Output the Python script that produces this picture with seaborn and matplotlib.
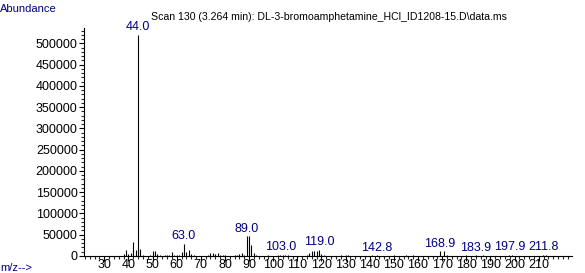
import matplotlib
matplotlib.use("Agg")
import matplotlib.pyplot as plt
import seaborn as sns
import numpy as np
import pandas as pd
from matplotlib.ticker import MultipleLocator

mz = [38, 39, 40, 41, 42, 43, 44, 45, 46, 49, 50, 51, 52, 53, 55, 56, 57, 58, 59, 60,
      61, 62, 63, 64, 65, 66, 67, 73, 74, 75, 76, 77, 78, 79, 80, 84, 85, 86, 87, 88,
      89, 90, 91, 92, 93, 98, 102, 103, 104, 105, 106, 114, 115, 116, 117, 118, 119, 120,
      121, 128, 130, 131, 141, 142.8, 150, 155, 158, 168.9, 170.9, 172, 180, 183.9, 187,
      197.9, 199, 211.8, 213]
abundance = [4000, 15000, 5000, 8000, 32000, 13000, 520000, 17000, 3000, 2000, 12000, 12000,
             5000, 3000, 2500, 2000, 3000, 9000, 3000, 2000,
             3000, 10000, 29000, 9000, 15000, 4000, 2000, 2000, 6000, 7000, 5000, 7000, 3000,
             2000, 2000, 2000, 3000, 4000, 6000, 3000,
             47000, 46000, 27000, 6000, 2000, 1500, 2500, 3000, 2500, 1500, 2000, 3000, 8000,
             11000, 12000, 11000, 15000, 4000,
             1500, 1500, 2000, 2000, 1500, 2500, 1200, 1500, 1500, 12000, 12000, 2000, 1500,
             2000, 1500, 3000, 2000, 3500, 2000]
labels = ["44.0", "63.0", "89.0", "103.0", "119.0", "142.8", "168.9", "183.9", "197.9", "211.8"]
label_mz = [44, 63, 89, 103, 119, 142.8, 168.9, 183.9, 197.9, 211.8]
label_top = [520000, 29000, 47000, 3000, 15000, 2500, 12000, 2000, 3000, 3500]
title = "Scan 130 (3.264 min): DL-3-bromoamphetamine_HCl_ID1208-15.D\\data.ms"

sns.set_style("ticks")
plt.rcParams['font.family'] = ['Liberation Sans', 'DejaVu Sans']

df = pd.DataFrame({"mz": mz, "abundance": abundance})

fig = plt.figure(figsize=(5.85, 2.73), dpi=100)
ax = fig.add_axes([84/585, 1 - 256/273, (572 - 84)/585, (256 - 28)/273])
ax.vlines(df["mz"], 0, df["abundance"], color="black", linewidth=0.8)
ax.set_xlim(21.6, 223.8)
ax.set_ylim(0, 536000)

ax.xaxis.set_major_locator(MultipleLocator(10))
ax.xaxis.set_minor_locator(MultipleLocator(2))
ax.yaxis.set_major_locator(MultipleLocator(50000))
ax.yaxis.set_minor_locator(MultipleLocator(10000))
ax.tick_params(axis="both", which="major", length=3.5, width=0.8, labelsize=9, colors="black")
ax.tick_params(axis="x", which="major", pad=-1)
ax.tick_params(axis="y", which="major", pad=1)
ax.tick_params(axis="both", which="minor", length=2, width=0.8)
ax.set_xticks([30, 40, 50, 60, 70, 80, 90, 100, 110, 120, 130, 140, 150, 160, 170, 180, 190, 200, 210])
sns.despine(ax=ax)
for s in ["left", "bottom"]:
    ax.spines[s].set_linewidth(0.8)
    ax.spines[s].set_color("black")

navy = "#000080"
for lab, x, y in zip(labels, label_mz, label_top):
    ax.annotate(lab, (x, y), xytext=(0, 1), textcoords="offset points",
                ha="center", va="bottom", color=navy, fontsize=9)

fig.text(151/585, 1 - 20/273, title, fontsize=7.6, color="black", ha="left", va="baseline")
fig.text(0, 1 - 12/273, "Abundance", fontsize=8, color=navy, ha="left", va="baseline")
fig.text(0, 1 - 271/273, "m/z-->", fontsize=8, color=navy, ha="left", va="baseline")

fig.savefig("out.png", dpi=100, facecolor="white")
